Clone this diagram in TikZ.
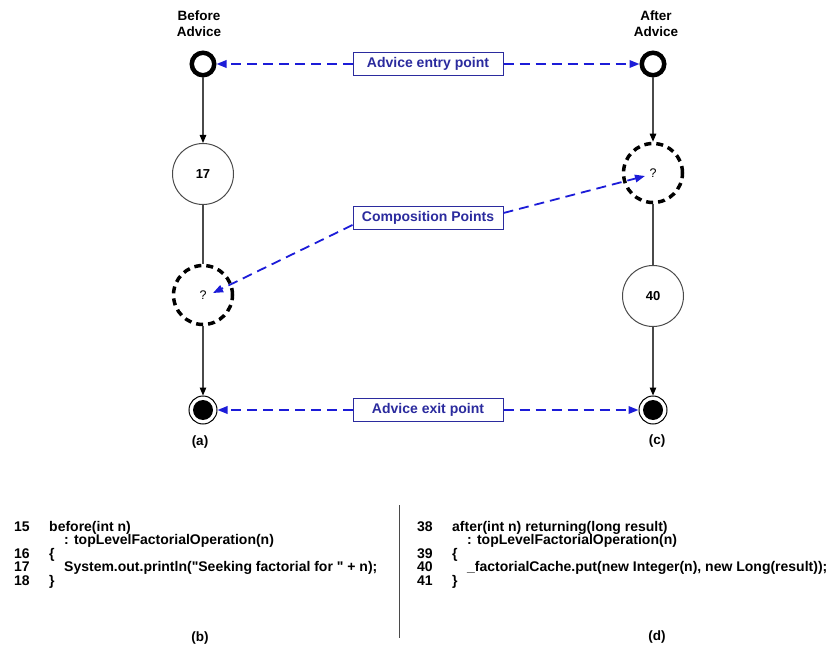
\documentclass[tikz,border=0pt]{standalone}
\usepackage{fontspec}
\setmainfont{Liberation Sans}
\usepackage{xcolor}
\usetikzlibrary{arrows.meta}
\definecolor{adviceblue}{HTML}{1C1CD8}
\definecolor{labelblue}{HTML}{2B2B9E}
\definecolor{flowgray}{HTML}{4A4A4A}

\begin{document}
\begin{tikzpicture}[
  x=1pt, y=-1pt,
  every node/.style={font=\bfseries\fontsize{13.5}{16}\selectfont, inner sep=0pt},
  flow/.style={flowgray, line width=1.2pt, -{Triangle[length=8pt, width=6.5pt, color=black]}},
  link/.style={flowgray, line width=1.2pt},
  pointer/.style={adviceblue, line width=1.8pt, dash pattern=on 10pt off 6pt,
                  -{Triangle[length=10pt, width=7.5pt]}},
  entrydot/.style={circle, draw=black, line width=4.5pt, minimum size=22.5pt},
  exitdot/.style={circle, draw=black, line width=1pt, minimum size=28pt,
                  path picture={\fill[black] (path picture bounding box.center) circle (10pt);}},
  stepnode/.style={circle, draw=flowgray, line width=1pt, fill=white, minimum size=61pt,
                   font=\bfseries\fontsize{13}{15}\selectfont},
  holenode/.style={circle, draw=black, line width=3.5pt, dash pattern=on 7pt off 5pt,
                   minimum size=59pt, font=\fontsize{12.5}{14}\selectfont},
  labelbox/.style={draw=labelblue, line width=1pt, text=labelblue, fill=white,
                   minimum width=150pt, minimum height=23pt,
                   font=\bfseries\fontsize{14}{16}\selectfont},
  codeline/.style={anchor=base west, font=\bfseries\fontsize{14}{14}\selectfont},
  caption/.style={font=\bfseries\fontsize{13.5}{15}\selectfont}
]
\useasboundingbox (0,0) rectangle (833,647);

%% ==== flows (a) and (c) ================================================
\node[align=center] (headL) at (199,24) {Before\\Advice};
\node[align=center] (headR) at (656,24) {After\\Advice};

\node[entrydot] (inL)  at (203,64)  {};
\node[stepnode] (n17)  at (203,174) {17};
\node[holenode] (qL)   at (203,295) {?};
\node[exitdot]  (outL) at (203,410) {};

\node[entrydot] (inR)  at (653,64)  {};
\node[holenode] (qR)   at (653,173) {?};
\node[stepnode] (n40)  at (653,296) {40};
\node[exitdot]  (outR) at (653,410) {};

\draw[flow] (inL) -- (n17);
\draw[link] (n17) -- (qL);
\draw[flow] (qL) -- (outL);
\draw[flow] (inR) -- (qR);
\draw[link] (qR) -- (n40);
\draw[flow] (n40) -- (outR);

\node[caption] (capA) at (200,442) {(a)};
\node[caption] (capC) at (657,441) {(c)};

%% ==== labels in the middle ============================================
\node[labelbox] (entry) at (428,64)  {Advice entry point};
\node[labelbox] (comp)  at (428,218) {Composition Points};
\node[labelbox] (exit)  at (428,410) {Advice exit point};

\draw[pointer] (entry) -- (inL);
\draw[pointer] (entry) -- (inR);
\draw[pointer] (exit) -- (outL);
\draw[pointer] (exit) -- (outR);
\draw[pointer] ([shift={(0,7)}]comp.west) -- ([shift={(10,-2)}]qL.center);
\draw[pointer] ([shift={(0,-5)}]comp.east) -- ([shift={(-8,3)}]qR.center);

%% ==== code (b) and (d) ================================================
\foreach \n/\y in {15/531, 16/558.2, 17/571.8, 18/585.4}
  \node[codeline] (numB\n) at (14,\y) {\n};
\node[codeline] (codeB1) at (49,531)   {before(int n)};
\node[codeline] (codeB2) at (64,544.6) {: topLevelFactorialOperation(n)};
\node[codeline] (codeB3) at (49,558.2) {\{};
\node[codeline] (codeB4) at (64,571.8)
  {System.out.println(\textquotedbl Seeking factorial for \textquotedbl{} + n);};
\node[codeline] (codeB5) at (49,585.4) {\}};

\draw[flowgray, line width=1pt] (399,505) -- (399,638);

\foreach \n/\y in {38/531, 39/558.2, 40/571.8, 41/585.4}
  \node[codeline] (numD\n) at (417,\y) {\n};
\node[codeline] (codeD1) at (452,531)   {after(int n) returning(long result)};
\node[codeline] (codeD2) at (467,544.6) {: topLevelFactorialOperation(n)};
\node[codeline] (codeD3) at (452,558.2) {\{};
\node[codeline] (codeD4) at (467,571.8) {\_factorialCache.put(new Integer(n), new Long(result));};
\node[codeline] (codeD5) at (452,585.4) {\}};

\node[caption] (capB) at (200,638) {(b)};
\node[caption] (capD) at (657,637) {(d)};

\end{tikzpicture}
\end{document}
